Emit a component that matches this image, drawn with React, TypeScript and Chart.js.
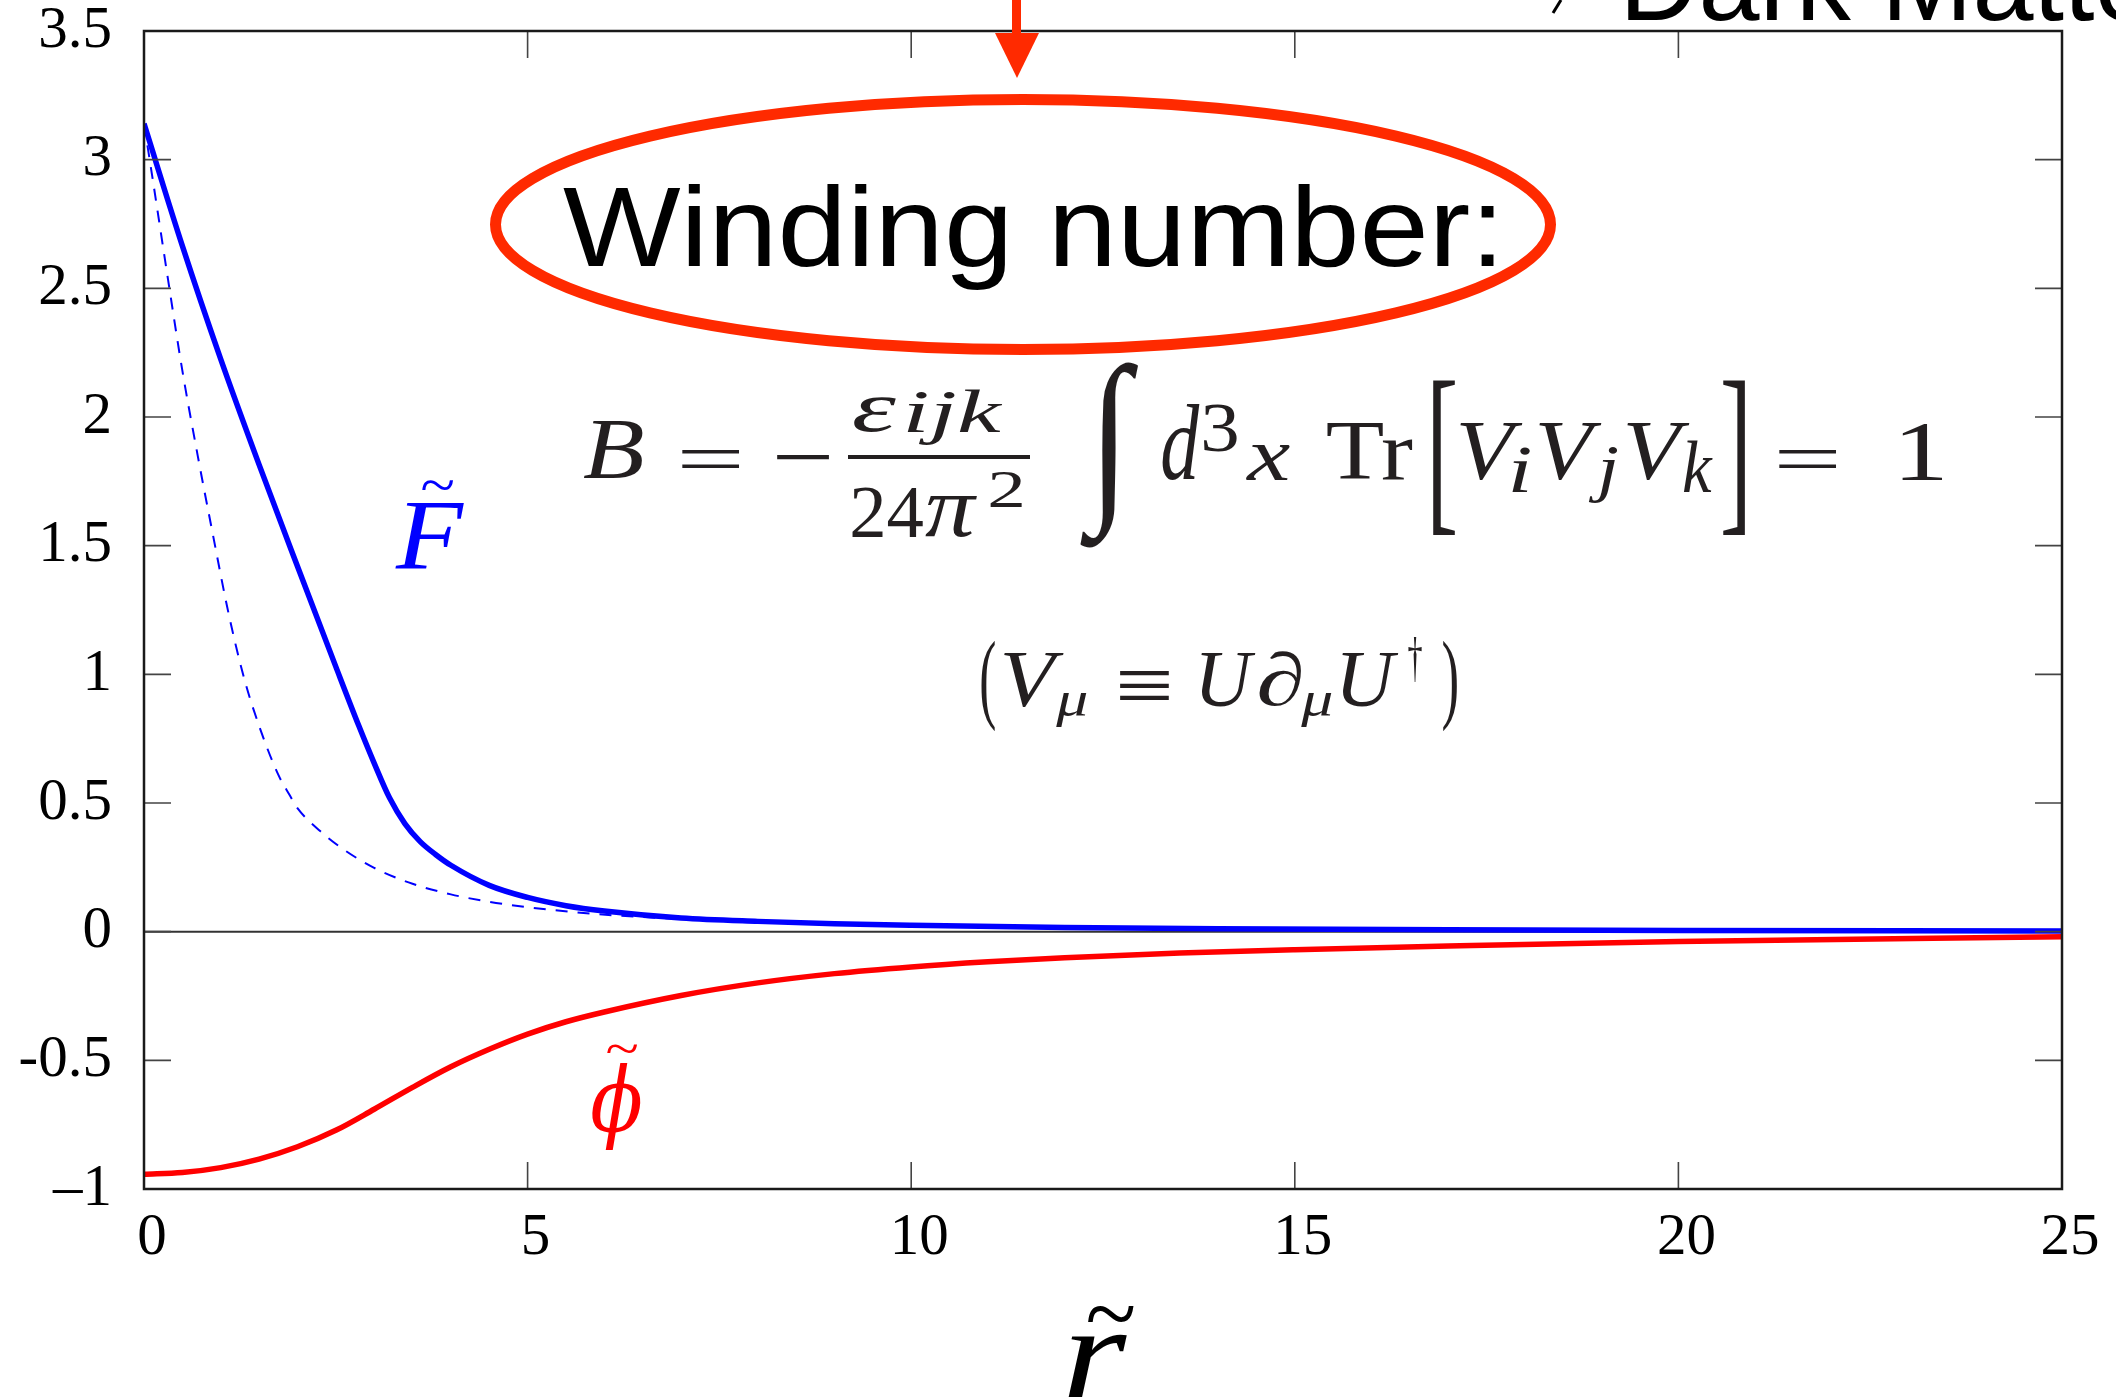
import React, { useEffect, useRef } from 'react';
import { Chart, registerables } from 'chart.js';

Chart.register(...registerables);

// Profile F(r) of the soliton (solid blue)
const rF = [0, 0.5, 1.0, 1.5, 2.0, 2.5, 2.8, 3.0, 3.2, 3.4, 3.6, 3.8, 4.0, 4.5, 5.0, 5.5, 6.0, 7.0, 8.0, 9.0, 10.0, 12.0, 14.0, 17.0, 20.0, 25.0];
const valF = [3.14, 2.665, 2.225, 1.815, 1.42, 1.03, 0.8, 0.655, 0.52, 0.42, 0.35, 0.3, 0.258, 0.18, 0.133, 0.101, 0.08, 0.053, 0.04, 0.031, 0.025, 0.016, 0.011, 0.007, 0.005, 0.003];

// Reference profile (dashed blue)
const rFd = [0, 0.1, 0.3, 0.5, 0.7, 0.9, 1.1, 1.3, 1.5, 1.75, 1.9, 2.0, 2.3, 2.6, 3.0, 3.5, 4.0, 4.5, 5.0, 5.6, 6.2, 7.0];
const valFd = [3.14, 2.95, 2.56, 2.18, 1.85, 1.54, 1.24, 0.99, 0.8, 0.61, 0.53, 0.48, 0.39, 0.32, 0.248, 0.186, 0.145, 0.116, 0.095, 0.076, 0.062, 0.049];

// Scalar profile phi(r) (solid red)
const rPhi = [0, 0.5, 1.0, 1.5, 2.0, 2.5, 3.0, 3.5, 4.0, 4.5, 5.0, 5.5, 6.0, 7.0, 8.0, 9.0, 10.0, 11.0, 12.0, 13.5, 15.0, 17.0, 20.0, 25.0];
const valPhi = [-0.943, -0.936, -0.917, -0.884, -0.836, -0.772, -0.69, -0.605, -0.525, -0.457, -0.398, -0.35, -0.312, -0.248, -0.199, -0.163, -0.137, -0.117, -0.101, -0.083, -0.07, -0.056, -0.038, -0.02];

// Axis ranges and ticks
const X_MIN = 0;
const X_MAX = 25;
const X_STEP = 5;
const Y_MIN = -1;
const Y_MAX = 3.5;
const Y_STEP = 0.5;

const toPoints = (xs: number[], ys: number[]) => xs.map((x, i) => ({ x, y: ys[i] }));

const SERIF = "'Liberation Serif', 'Times New Roman', serif";
const SANS = "'Liberation Sans', Arial, sans-serif";
const INK = '#231f20';

// Draw a string so that its ink fills the given box exactly.
function fitText(
  ctx: CanvasRenderingContext2D,
  text: string,
  font: string,
  color: string,
  x0: number,
  y0: number,
  x1: number,
  y1: number
) {
  ctx.save();
  ctx.font = font;
  ctx.fillStyle = color;
  ctx.textAlign = 'left';
  ctx.textBaseline = 'alphabetic';
  const m = ctx.measureText(text);
  const w = m.actualBoundingBoxLeft + m.actualBoundingBoxRight;
  const h = m.actualBoundingBoxAscent + m.actualBoundingBoxDescent;
  ctx.translate(x0, y0);
  ctx.scale((x1 - x0) / w, (y1 - y0) / h);
  ctx.fillText(text, m.actualBoundingBoxLeft, m.actualBoundingBoxAscent);
  ctx.restore();
}

const framePlugin = {
  id: 'frame',
  beforeDatasetsDraw(chart: any) {
    const { ctx, chartArea: a, scales } = chart;
    const y0 = scales.y.getPixelForValue(0);
    ctx.save();
    ctx.strokeStyle = '#333';
    ctx.lineWidth = 2;
    ctx.beginPath();
    ctx.moveTo(a.left, y0);
    ctx.lineTo(a.right, y0);
    ctx.stroke();
    ctx.restore();
  },
  afterDatasetsDraw(chart: any) {
    const { ctx, chartArea: a, scales } = chart;
    const tick = 27;
    ctx.save();
    ctx.strokeStyle = '#444';
    ctx.lineWidth = 1.6;
    ctx.beginPath();
    for (let v = X_MIN + X_STEP; v < X_MAX; v += X_STEP) {
      const px = scales.x.getPixelForValue(v);
      ctx.moveTo(px, a.bottom);
      ctx.lineTo(px, a.bottom - tick);
      ctx.moveTo(px, a.top);
      ctx.lineTo(px, a.top + tick);
    }
    for (let v = Y_MIN + Y_STEP; v < Y_MAX; v += Y_STEP) {
      const py = scales.y.getPixelForValue(v);
      ctx.moveTo(a.left, py);
      ctx.lineTo(a.left + tick, py);
      ctx.moveTo(a.right, py);
      ctx.lineTo(a.right - tick, py);
    }
    ctx.stroke();
    ctx.strokeStyle = '#1a1a1a';
    ctx.lineWidth = 2.5;
    ctx.strokeRect(a.left, a.top, a.right - a.left, a.bottom - a.top);
    ctx.restore();
  },
};

const annotationPlugin = {
  id: 'annotations',
  afterDraw(chart: any) {
    const ctx: CanvasRenderingContext2D = chart.ctx;
    const it = (s: number) => `italic ${s}px ${SERIF}`;
    const up = (s: number) => `${s}px ${SERIF}`;

    // curve labels
    fitText(ctx, 'F', it(100), '#0000ff', 395, 504, 464, 569);
    fitText(ctx, '~', up(80), '#0000ff', 422, 480, 453, 490);
    fitText(ctx, '\u03D5', `italic 100px 'DejaVu Serif', ${SERIF}`, '#ff0000', 591, 1063, 642, 1150);
    fitText(ctx, '~', up(80), '#ff0000', 607, 1043, 637, 1052);

    // x-axis title
    fitText(ctx, 'r', it(140), '#000', 1068, 1335, 1127, 1398);
    fitText(ctx, '~', up(110), '#000', 1088, 1305, 1134, 1322);

    // red arrow and ellipse around the heading
    ctx.save();
    ctx.fillStyle = '#ff2a00';
    ctx.fillRect(1012, 0, 9, 36);
    ctx.beginPath();
    ctx.moveTo(995, 33);
    ctx.lineTo(1039, 33);
    ctx.lineTo(1017, 78);
    ctx.closePath();
    ctx.fill();
    ctx.strokeStyle = '#ff2a00';
    ctx.lineWidth = 11;
    ctx.beginPath();
    ctx.ellipse(1023, 224.5, 527.5, 125, 0, 0, Math.PI * 2);
    ctx.stroke();
    ctx.restore();

    // heading text
    ctx.save();
    ctx.font = `100px ${SANS}`;
    const mw = ctx.measureText('Winding number:');
    const sx = 931 / (mw.actualBoundingBoxLeft + mw.actualBoundingBoxRight);
    const sy = 107 / (mw.actualBoundingBoxAscent + mw.actualBoundingBoxDescent);
    ctx.restore();
    fitText(ctx, 'Winding number:', `100px ${SANS}`, '#000', 563, 183, 1494, 290);

    ctx.save();
    ctx.font = `100px ${SANS}`;
    ctx.fillStyle = '#000';
    ctx.textBaseline = 'alphabetic';
    const md = ctx.measureText('Dark Matter');
    ctx.translate(1628, 20);
    ctx.scale(sx * 0.88, sy);
    ctx.fillText('Dark Matter', md.actualBoundingBoxLeft, 0);
    ctx.restore();
    ctx.save();
    ctx.strokeStyle = '#000';
    ctx.lineWidth = 3;
    ctx.beginPath();
    ctx.moveTo(1561, 0);
    ctx.lineTo(1553, 13);
    ctx.stroke();
    ctx.restore();

    // B = -(eps_ijk / 24 pi^2) \int d^3x Tr[V_i V_j V_k] = 1
    fitText(ctx, 'B', it(84), INK, 583, 420, 643, 478);
    fitText(ctx, '=', up(84), INK, 682, 448, 740, 467);
    fitText(ctx, '\u2212', up(84), INK, 777, 455, 830, 460);
    ctx.save();
    ctx.fillStyle = INK;
    ctx.fillRect(848, 455, 182, 4);
    ctx.restore();
    fitText(ctx, '\u03B5', it(84), INK, 853, 397, 897, 432);
    fitText(ctx, 'ijk', it(62), INK, 907, 390, 1003, 445);
    fitText(ctx, '24', up(80), INK, 852, 487, 923, 537);
    fitText(ctx, '\u03C0', it(80), INK, 925, 496, 977, 537);
    fitText(ctx, '2', up(58), INK, 990, 473, 1022, 507);
    fitText(ctx, '\u222B', up(160), INK, 1080, 362, 1138, 548);
    fitText(ctx, 'd', it(84), INK, 1162, 403, 1200, 480);
    fitText(ctx, '3', up(58), INK, 1203, 405, 1237, 452);
    fitText(ctx, 'x', it(84), INK, 1245, 445, 1290, 480);
    fitText(ctx, 'Tr', up(84), INK, 1327, 422, 1413, 480);
    fitText(ctx, '[', up(150), INK, 1433, 380, 1455, 535);
    fitText(ctx, 'V', it(84), INK, 1460, 422, 1523, 480);
    fitText(ctx, 'i', it(60), INK, 1512, 448, 1530, 492);
    fitText(ctx, 'V', it(84), INK, 1539, 422, 1602, 480);
    fitText(ctx, 'j', it(60), INK, 1588, 448, 1618, 503);
    fitText(ctx, 'V', it(84), INK, 1627, 422, 1690, 480);
    fitText(ctx, 'k', it(60), INK, 1683, 441, 1713, 492);
    fitText(ctx, ']', up(150), INK, 1723, 380, 1745, 535);
    fitText(ctx, '=', up(84), INK, 1779, 448, 1837, 467);
    fitText(ctx, '1', up(84), INK, 1902, 424, 1942, 480);

    // (V_mu = U d_mu U^dagger)
    fitText(ctx, '(', up(110), INK, 981, 640, 995, 732);
    fitText(ctx, 'V', it(80), INK, 1004, 653, 1064, 707);
    fitText(ctx, '\u03BC', it(56), INK, 1055, 692, 1087, 727);
    fitText(ctx, '\u2261', up(80), INK, 1119, 670, 1170, 700);
    fitText(ctx, 'U', it(80), INK, 1201, 653, 1256, 707);
    fitText(ctx, '\u2202', it(80), INK, 1259, 651, 1302, 707);
    fitText(ctx, '\u03BC', it(56), INK, 1300, 692, 1332, 727);
    fitText(ctx, 'U', it(80), INK, 1342, 653, 1399, 707);
    fitText(ctx, '\u2020', up(56), INK, 1408, 637, 1422, 683);
    fitText(ctx, ')', up(110), INK, 1443, 640, 1457, 732);
  },
};

export default function App() {
  const canvasRef = useRef<HTMLCanvasElement | null>(null);

  useEffect(() => {
    document.body.style.margin = '0';
    document.body.style.overflow = 'hidden';
    const canvas = canvasRef.current;
    if (!canvas) return;

    const tickFont = { family: SERIF, size: 59, lineHeight: 1 };

    const chart = new Chart(canvas, {
      type: 'line',
      data: {
        datasets: [
          {
            data: toPoints(rF, valF),
            borderColor: '#0000ff',
            borderWidth: 5.5,
            pointRadius: 0,
            cubicInterpolationMode: 'monotone',
            borderJoinStyle: 'round',
          },
          {
            data: toPoints(rFd, valFd),
            borderColor: '#0000ff',
            borderWidth: 2,
            borderDash: [12, 10],
            pointRadius: 0,
            cubicInterpolationMode: 'monotone',
          },
          {
            data: toPoints(rPhi, valPhi),
            borderColor: '#ff0000',
            borderWidth: 5.5,
            pointRadius: 0,
            cubicInterpolationMode: 'monotone',
            borderJoinStyle: 'round',
          },
        ],
      },
      options: {
        responsive: false,
        devicePixelRatio: 1,
        animation: false,
        layout: { padding: { left: 0, right: 54, top: 31, bottom: 129 } },
        plugins: {
          legend: { display: false },
          tooltip: { enabled: false },
        },
        scales: {
          x: {
            type: 'linear',
            min: X_MIN,
            max: X_MAX,
            grid: { display: false, drawTicks: false },
            border: { display: false },
            ticks: {
              stepSize: X_STEP,
              color: '#000',
              font: tickFont,
              padding: 20,
              labelOffset: 8,
              maxRotation: 0,
              autoSkip: false,
            },
            afterFit: (s: any) => {
              s.height = 80;
              s.paddingLeft = 0;
              s.paddingRight = 0;
            },
          },
          y: {
            type: 'linear',
            min: Y_MIN,
            max: Y_MAX,
            grid: { display: false, drawTicks: false },
            border: { display: false },
            ticks: {
              stepSize: Y_STEP,
              color: '#000',
              font: tickFont,
              padding: 32,
              autoSkip: false,
              callback: (v: any) => (v === -1 ? '\u20131' : String(v)),
            },
            afterFit: (s: any) => {
              s.width = 144;
              s.paddingTop = 0;
              s.paddingBottom = 0;
            },
          },
        },
      },
      plugins: [framePlugin, annotationPlugin],
    } as any);

    return () => chart.destroy();
  }, []);

  return (
    <div style={{ width: 2116, height: 1398, background: '#fff' }}>
      <canvas ref={canvasRef} width={2116} height={1398} style={{ display: 'block' }} />
    </div>
  );
}
